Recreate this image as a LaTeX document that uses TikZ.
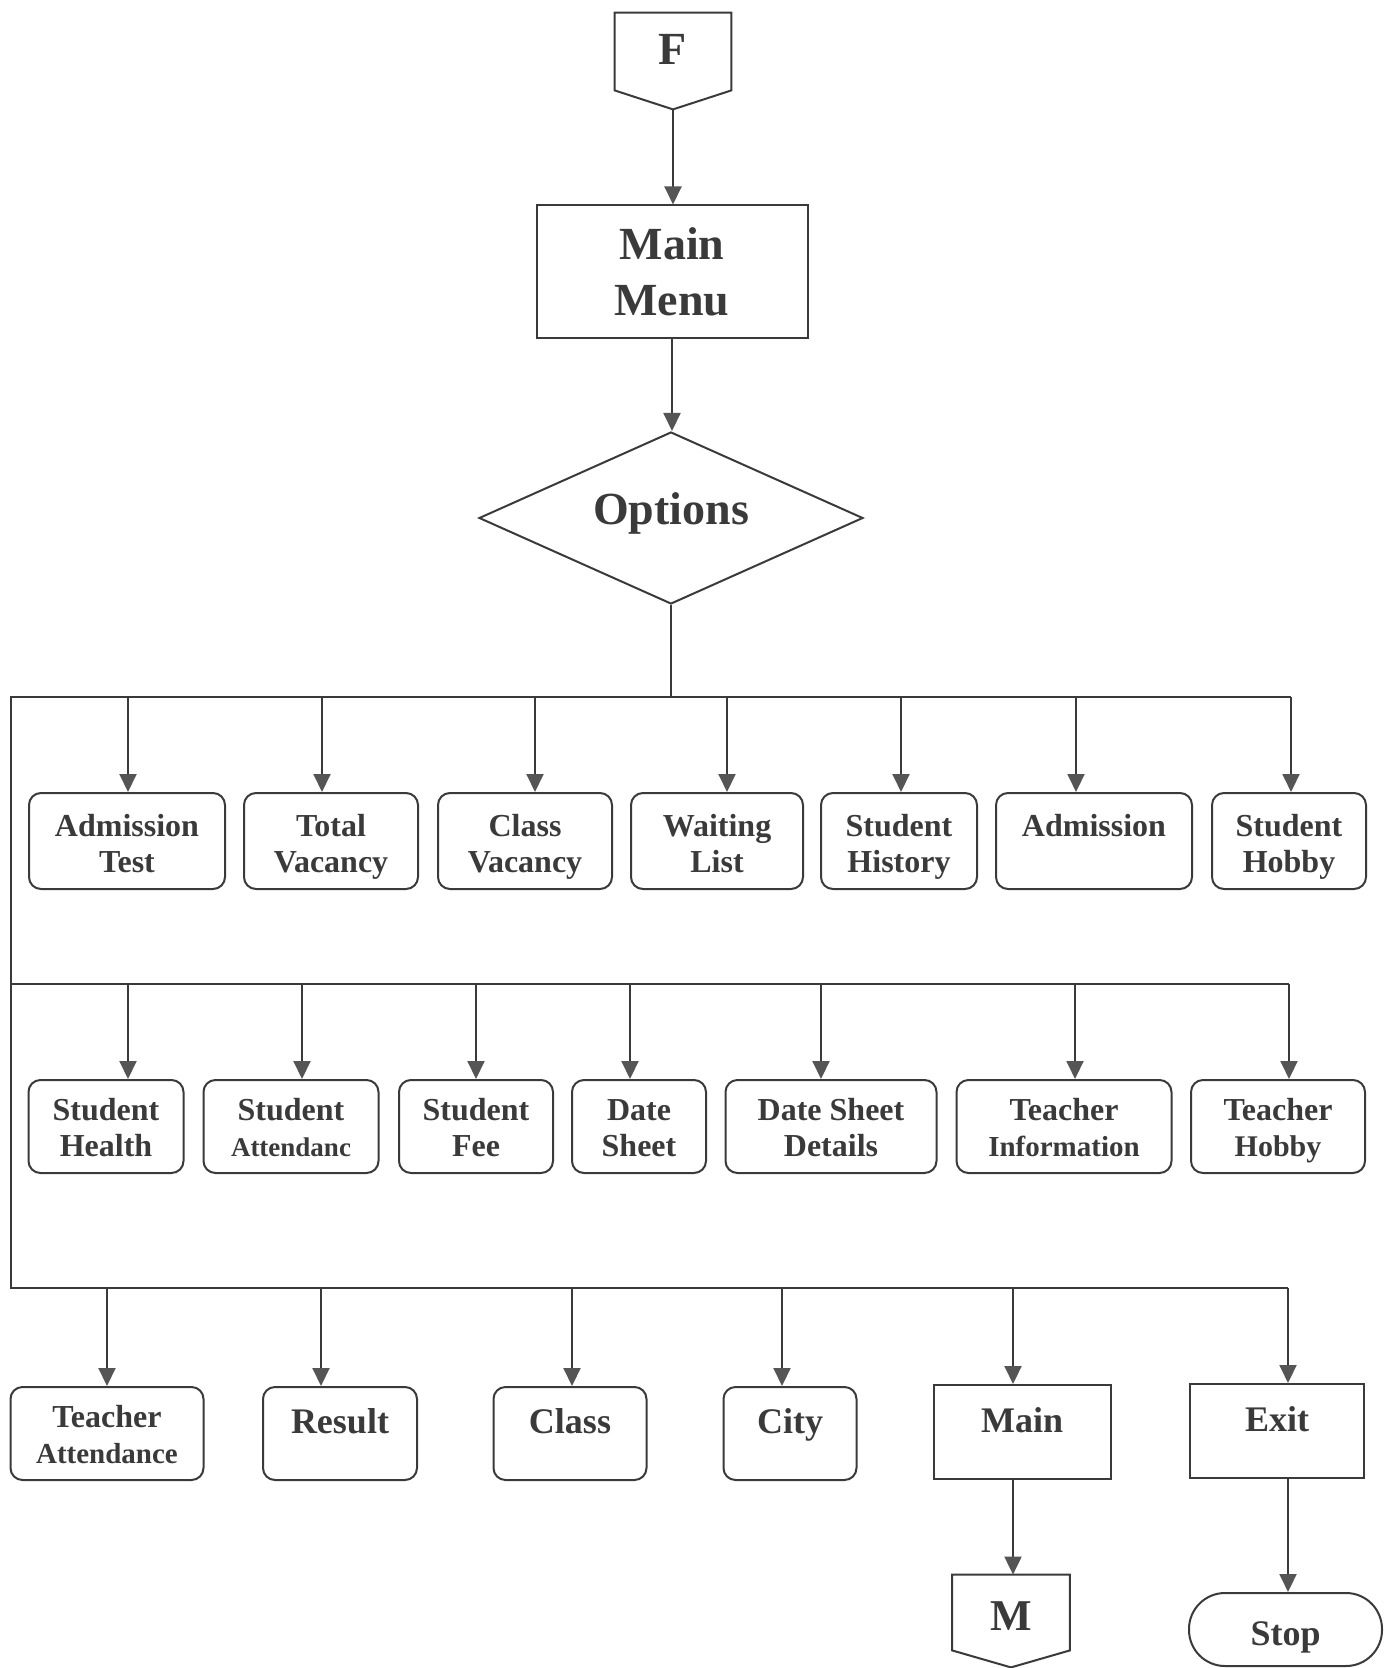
\documentclass[tikz,border=0pt]{standalone}
\usepackage{fontspec}
\setmainfont{Liberation Serif}
\usetikzlibrary{arrows.meta,shapes.geometric,calc}
\definecolor{ink}{HTML}{3A3A3A}
\definecolor{tipc}{HTML}{555555}
\tikzset{
  line/.style={draw=ink, line width=1pt},
  arr/.style={line, -{Triangle[width=8.5pt,length=9pt,color=tipc]}},
  boxbase/.style={draw=ink, line width=1pt, inner sep=0pt, align=center, text=ink},
  % two-line rounded boxes (baseline of the block is its last line)
  rbox/.style={boxbase, rounded corners=6pt, minimum height=48pt,
    font=\fontsize{16}{18}\selectfont\bfseries, text height=33pt, text depth=1.5pt},
  rboxb/.style={rbox, minimum height=46.5pt, text height=31.5pt},
  % one-line rounded boxes
  sbox/.style={boxbase, rounded corners=6pt, minimum height=46.5pt,
    font=\fontsize{18}{20}\selectfont\bfseries, text height=8pt, text depth=8pt},
  pbox/.style={boxbase, minimum height=47pt,
    font=\fontsize{18}{20}\selectfont\bfseries, text height=8pt, text depth=8pt},
  big/.style={text=ink, inner sep=0pt, align=center, font=\fontsize{23}{28}\selectfont\bfseries},
}
\begin{document}
\begin{tikzpicture}[x=0.5pt,y=-0.5pt]
\useasboundingbox (0,0) rectangle (1395,1668);

% start connector F
\node[big, minimum width=58pt, minimum height=38.5pt, text height=18pt, text depth=4.5pt] (F) at (673,51.5) {F};
\coordinate (Fpt) at ($(F.south)+(0,19)$);
\draw[line] (F.north west) -- (F.north east) -- (F.south east) -- (Fpt) -- (F.south west) -- cycle;

% main menu
\node[big, draw=ink, line width=1pt, minimum width=135.5pt, minimum height=66.5pt,
      text height=46pt, text depth=2pt] (menu) at (672,272) {Main\\Menu};
\draw[arr] (Fpt) -- (Fpt |- menu.north);

% options decision
\node[big, draw=ink, line width=1pt, diamond, shape aspect=2.23, minimum width=192pt, minimum height=86pt,
      text height=14pt, text depth=8pt] (opt) at (671,518) {Options};
\draw[arr] (menu.south) -- (menu.south |- opt.north);

% buses
\coordinate (b1L) at (11,697);  \coordinate (b1R) at (1291,697);
\coordinate (b2L) at (11,984);  \coordinate (b2R) at (1289,984);
\coordinate (b3L) at (11,1288); \coordinate (b3R) at (1288,1288);
\draw[line] (opt.south) -- (opt.south |- b1L);
\draw[line] (b1R) -- (b1L) -- (b3L) -- (b3R);
\draw[line] (b2L) -- (b2R);

% first row
\node[rbox, minimum width=98pt]   (at)  at (127,841)  {Admission\\Test};
\node[rbox, minimum width=87pt]   (tv)  at (331,841)  {Total\\Vacancy};
\node[rbox, minimum width=87pt]   (cv)  at (525,841)  {Class\\Vacancy};
\node[rbox, minimum width=86pt]   (wl)  at (717,841)  {Waiting\\List};
\node[rbox, minimum width=78pt]   (sh)  at (899,841)  {Student\\History};
\node[rbox, minimum width=98pt, text height=10pt, text depth=14.5pt] (adm) at (1094,841) {Admission};
\node[rbox, minimum width=77pt]   (shb) at (1289,841) {Student\\Hobby};
\foreach \x/\n in {128/at,322/tv,535/cv,727/wl,901/sh,1076/adm,1291/shb}
  \draw[arr] (\x,697) -- (\x,0 |- \n.north);

% second row
\node[rboxb, minimum width=77.5pt]  (sth) at (106,1126.5)  {Student\\Health};
\node[rboxb, minimum width=87.5pt]  (sat) at (291,1126.5)  {Student\\{\fontsize{13.5}{18}\selectfont Attendanc}};
\node[rboxb, minimum width=77pt]    (sf)  at (476,1126.5)  {Student\\Fee};
\node[rboxb, minimum width=67pt]    (ds)  at (639,1126.5)  {Date\\Sheet};
\node[rboxb, minimum width=105.5pt] (dsd) at (831,1126.5)  {Date Sheet\\Details};
\node[rboxb, minimum width=107.5pt] (ti)  at (1064,1126.5) {Teacher\\{\fontsize{14.5}{18}\selectfont Information}};
\node[rboxb, minimum width=87pt]    (thb) at (1278,1126.5) {Teacher\\{\fontsize{15}{18}\selectfont Hobby}};
\foreach \x/\n in {128/sth,302/sat,476/sf,630/ds,821/dsd,1075/ti,1289/thb}
  \draw[arr] (\x,984) -- (\x,0 |- \n.north);

% third row
\node[rboxb, minimum width=96.5pt] (ta)  at (107,1433.5) {Teacher\\{\fontsize{14.5}{18}\selectfont Attendance}};
\node[sbox, minimum width=77pt]    (res) at (340,1433.5) {Result};
\node[sbox, minimum width=76.5pt]  (cls) at (570,1433.5) {Class};
\node[sbox, minimum width=66.5pt]  (cty) at (790,1433.5) {City};
\node[pbox, minimum width=88.5pt]  (mn)  at (1022,1432)  {Main};
\node[pbox, minimum width=87pt]    (ex)  at (1277,1431)  {Exit};
\foreach \x/\n in {107/ta,321/res,572/cls,782/cty,1013/mn,1288/ex}
  \draw[arr] (\x,1288) -- (\x,0 |- \n.north);

% end connector M
\node[big, font=\fontsize{22}{26}\selectfont\bfseries, minimum width=58.5pt, minimum height=37.5pt,
      text height=20pt, text depth=2pt] (M) at (1011,1612.5) {M};
\coordinate (Mpt) at ($(M.south)+(0,17)$);
\draw[line] (M.north west) -- (M.north east) -- (M.south east) -- (Mpt) -- (M.south west) -- cycle;
\draw[arr] (1013,0 |- mn.south) -- (1013,0 |- M.north);

% stop terminal
\node[boxbase, rounded corners=18pt, minimum width=96.5pt, minimum height=36.5pt,
      font=\fontsize{18}{20}\selectfont\bfseries, text height=18pt, text depth=2pt] (stop) at (1285.5,1629.5) {Stop};
\draw[arr] (1288,0 |- ex.south) -- (1288,0 |- stop.north);
\end{tikzpicture}
\end{document}
